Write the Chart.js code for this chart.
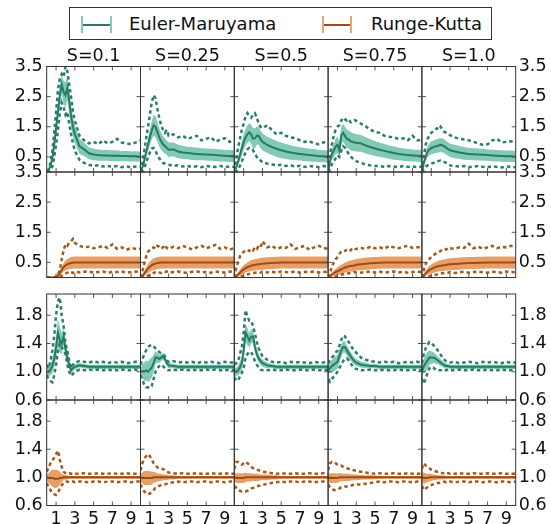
<!DOCTYPE html>
<html>
<head>
<meta charset="utf-8">
<script src="https://cdn.jsdelivr.net/npm/chart.js@4.4.0/dist/chart.umd.min.js"></script>
<style>
body{margin:0;background:#fff;width:551px;height:524px;overflow:hidden;position:relative;font-family:"DejaVu Sans",sans-serif;}
canvas{position:absolute;left:0;top:0;}
#legend{position:absolute;left:69px;top:7px;width:421px;height:31px;border:1px solid #333;background:#fff;}
.sym{position:absolute;height:2px;}
.cap{position:absolute;width:2px;}
.ltxt{position:absolute;font-size:18px;line-height:18px;color:#111;white-space:nowrap;}
</style>
</head>
<body>
<div id="legend"></div>
<script>
// time grid
const T = [0,0.2,0.4,0.6,0.8,1,1.2,1.4,1.6,1.8,2,2.2,2.4,2.6,2.8,3,3.5,4,4.5,5,5.5,6,6.5,7,7.5,8,8.5,9,9.5,10];
const sLabels = ['S=0.1','S=0.25','S=0.5','S=0.75','S=1.0'];
const xTicks = [1,3,5,7,9];
const yTicksA = [0.5,1.5,2.5,3.5];
const yTicksB = [0.6,1.0,1.4,1.8];

// upper variable, Euler-Maruyama
const emMeanA = [
  [0,0.06,0.2,0.45,0.9,1.45,2.0,2.55,2.9,2.65,2.55,2.8,2.35,1.85,1.5,1.25,0.85,0.75,0.62,0.58,0.56,0.55,0.55,0.54,0.54,0.53,0.53,0.52,0.52,0.51],
  [0,0.15,0.38,0.65,0.9,1.15,1.38,1.55,1.5,1.33,1.15,1.02,0.92,0.86,0.8,0.74,0.75,0.68,0.65,0.63,0.61,0.6,0.59,0.58,0.57,0.56,0.55,0.54,0.53,0.53],
  [0,0.15,0.35,0.55,0.78,1.0,1.15,1.25,1.32,1.25,1.1,1.12,1.2,1.2,1.08,1.0,0.9,0.83,0.77,0.72,0.68,0.65,0.62,0.6,0.58,0.56,0.55,0.53,0.52,0.51],
  [0,0.35,0.6,0.7,0.85,0.9,0.72,1.2,1.3,1.2,1.1,1.08,1.02,1.0,0.98,0.97,0.95,0.88,0.83,0.78,0.74,0.7,0.66,0.63,0.6,0.58,0.56,0.55,0.54,0.53],
  [0,0.3,0.5,0.68,0.75,0.8,0.82,0.85,0.86,0.88,0.9,0.88,0.85,0.8,0.76,0.72,0.68,0.65,0.62,0.6,0.59,0.58,0.57,0.56,0.55,0.54,0.53,0.52,0.52,0.51]
];
const emSdA = [
  [0.02,0.04,0.07,0.1,0.15,0.2,0.25,0.3,0.32,0.38,0.42,0.4,0.38,0.36,0.33,0.3,0.25,0.22,0.2,0.19,0.19,0.18,0.18,0.18,0.18,0.17,0.17,0.17,0.17,0.17],
  [0.02,0.06,0.1,0.15,0.2,0.25,0.3,0.35,0.35,0.33,0.3,0.28,0.26,0.25,0.24,0.24,0.23,0.22,0.22,0.21,0.21,0.21,0.2,0.2,0.2,0.2,0.2,0.2,0.2,0.2],
  [0.02,0.06,0.12,0.18,0.22,0.26,0.28,0.3,0.3,0.32,0.35,0.33,0.3,0.3,0.29,0.28,0.27,0.27,0.26,0.26,0.25,0.24,0.23,0.22,0.22,0.21,0.21,0.2,0.2,0.2],
  [0.02,0.1,0.18,0.22,0.25,0.28,0.28,0.3,0.3,0.3,0.3,0.3,0.3,0.3,0.29,0.29,0.28,0.27,0.26,0.25,0.24,0.23,0.22,0.22,0.21,0.21,0.2,0.2,0.2,0.2],
  [0.02,0.1,0.15,0.18,0.2,0.21,0.22,0.22,0.23,0.23,0.23,0.23,0.23,0.23,0.22,0.22,0.22,0.21,0.21,0.2,0.2,0.2,0.2,0.19,0.19,0.19,0.19,0.19,0.19,0.19]
];
const emHiA = [
  [0.02,0.1,0.3,0.7,1.3,2.0,2.7,3.1,3.25,3.15,3.5,3.35,2.9,2.5,2.0,1.7,1.2,1.05,0.95,1.0,0.92,1.05,0.95,1.0,1.1,0.98,0.95,0.92,0.98,1.05],
  [0.02,0.3,0.7,1.1,1.5,1.9,2.3,2.55,2.45,2.1,1.8,1.55,1.4,1.3,1.4,1.2,1.25,1.15,1.2,1.1,1.15,1.2,1.05,1.1,1.15,1.0,1.08,1.12,1.0,1.05],
  [0.02,0.4,0.8,1.1,1.4,1.6,1.85,1.95,1.85,1.8,1.9,1.95,1.8,1.6,1.5,1.45,1.55,1.4,1.25,1.3,1.2,1.15,1.12,1.05,1.0,1.02,0.95,0.92,0.98,1.02],
  [0.02,0.6,0.9,1.2,1.4,1.5,1.55,1.7,1.8,1.75,1.7,1.75,1.65,1.7,1.72,1.7,1.6,1.52,1.4,1.33,1.3,1.2,1.17,1.15,1.1,1.12,1.05,1.2,1.05,1.05],
  [0.02,0.5,0.9,1.1,1.2,1.3,1.35,1.4,1.45,1.4,1.5,1.4,1.33,1.3,1.25,1.22,1.15,1.1,1.08,1.05,1.0,0.95,0.9,0.92,1.05,1.1,0.98,1.0,1.02,0.98]
];
const emLoA = [
  [0,0.02,0.06,0.18,0.48,0.9,1.4,1.95,2.3,2.15,1.9,2.0,1.6,1.25,0.95,0.7,0.4,0.3,0.24,0.2,0.22,0.18,0.2,0.17,0.2,0.16,0.19,0.15,0.18,0.17],
  [0,0.05,0.15,0.3,0.5,0.65,0.78,0.8,0.72,0.55,0.45,0.38,0.3,0.28,0.25,0.24,0.2,0.22,0.18,0.2,0.17,0.19,0.16,0.2,0.18,0.17,0.2,0.16,0.18,0.17],
  [0,0.03,0.1,0.2,0.35,0.5,0.65,0.75,0.8,0.78,0.72,0.6,0.5,0.42,0.38,0.32,0.28,0.25,0.22,0.24,0.2,0.22,0.18,0.21,0.17,0.2,0.18,0.16,0.2,0.18],
  [0,0.1,0.25,0.35,0.45,0.55,0.5,0.7,0.85,0.8,0.7,0.6,0.52,0.45,0.4,0.36,0.3,0.25,0.22,0.2,0.2,0.17,0.2,0.18,0.16,0.2,0.17,0.18,0.16,0.18],
  [0,0.1,0.18,0.22,0.25,0.28,0.3,0.32,0.35,0.37,0.38,0.36,0.33,0.3,0.26,0.22,0.2,0.18,0.2,0.16,0.18,0.2,0.17,0.16,0.19,0.17,0.15,0.18,0.17,0.16]
];

// upper variable, Runge-Kutta
const rkMeanA = [
  [0,0,0,0,0,0.01,0.06,0.15,0.25,0.34,0.4,0.44,0.46,0.48,0.49,0.5,0.5,0.5,0.5,0.5,0.5,0.5,0.5,0.5,0.5,0.5,0.5,0.5,0.5,0.5],
  [0,0.05,0.13,0.22,0.3,0.36,0.41,0.44,0.46,0.48,0.49,0.5,0.5,0.5,0.5,0.5,0.5,0.5,0.5,0.5,0.5,0.5,0.5,0.5,0.5,0.5,0.5,0.5,0.5,0.5],
  [0,0.04,0.1,0.16,0.22,0.27,0.31,0.34,0.37,0.39,0.41,0.42,0.43,0.44,0.45,0.46,0.47,0.48,0.49,0.5,0.5,0.5,0.5,0.5,0.5,0.5,0.5,0.5,0.5,0.5],
  [0,0.05,0.1,0.14,0.18,0.21,0.24,0.27,0.3,0.33,0.35,0.37,0.38,0.39,0.4,0.42,0.44,0.46,0.47,0.48,0.49,0.5,0.5,0.5,0.5,0.5,0.5,0.5,0.5,0.5],
  [0,0.07,0.14,0.2,0.25,0.28,0.31,0.34,0.36,0.38,0.39,0.4,0.41,0.42,0.43,0.44,0.45,0.46,0.47,0.48,0.48,0.49,0.49,0.5,0.5,0.5,0.5,0.5,0.5,0.5]
];
const rkSdA = [
  [0,0,0,0,0.01,0.02,0.05,0.08,0.11,0.14,0.16,0.18,0.19,0.2,0.2,0.2,0.2,0.2,0.2,0.2,0.2,0.2,0.2,0.2,0.2,0.2,0.2,0.2,0.2,0.2],
  [0,0.04,0.08,0.12,0.15,0.17,0.18,0.19,0.2,0.2,0.2,0.2,0.2,0.2,0.2,0.2,0.2,0.2,0.2,0.2,0.2,0.2,0.2,0.2,0.2,0.2,0.2,0.2,0.2,0.2],
  [0,0.03,0.07,0.1,0.12,0.14,0.15,0.16,0.17,0.18,0.18,0.19,0.19,0.19,0.2,0.2,0.2,0.2,0.2,0.2,0.2,0.2,0.2,0.2,0.2,0.2,0.2,0.2,0.2,0.2],
  [0,0.03,0.06,0.09,0.11,0.13,0.14,0.15,0.16,0.17,0.17,0.18,0.18,0.19,0.19,0.19,0.2,0.2,0.2,0.2,0.2,0.2,0.2,0.2,0.2,0.2,0.2,0.2,0.2,0.2],
  [0,0.04,0.08,0.11,0.13,0.15,0.16,0.17,0.17,0.18,0.18,0.19,0.19,0.19,0.2,0.2,0.2,0.2,0.2,0.2,0.2,0.2,0.2,0.2,0.2,0.2,0.2,0.2,0.2,0.2]
];
const rkHiA = [
  [0,0,0,0,0.01,0.03,0.1,0.25,0.6,0.9,1.1,1.05,1.15,1.2,1.28,1.15,1.05,1.0,1.02,0.97,1.0,1.05,0.98,1.1,0.95,1.0,0.92,0.98,0.95,0.95],
  [0,0.2,0.45,0.7,0.85,0.92,0.98,1.0,0.95,1.05,1.02,0.95,1.0,1.08,0.98,0.95,1.02,0.97,1.05,1.0,0.93,1.0,1.05,0.97,1.02,1.08,0.95,1.0,0.92,0.98],
  [0,0.3,0.5,0.7,0.8,0.85,0.9,0.92,0.88,0.95,0.9,1.0,0.95,1.05,1.0,1.2,1.0,1.05,0.95,1.0,0.98,1.1,0.95,1.0,1.05,0.92,1.0,1.05,0.98,0.95],
  [0,0.15,0.35,0.5,0.6,0.68,0.78,0.86,0.9,0.88,0.92,0.95,0.9,0.97,0.93,0.95,0.98,0.95,1.02,0.97,1.0,0.95,1.05,1.0,0.97,1.02,1.05,0.98,1.0,1.0],
  [0,0.25,0.45,0.55,0.62,0.68,0.72,0.78,0.82,0.85,0.88,0.92,0.9,0.95,0.92,0.97,0.95,1.0,0.98,1.12,0.97,1.02,0.95,1.0,1.05,0.97,1.02,1.0,1.05,1.02]
];
const rkLoA = [
  [0,0,0,0,0,0,0.01,0.03,0.06,0.1,0.13,0.16,0.2,0.18,0.15,0.2,0.17,0.19,0.2,0.16,0.18,0.2,0.15,0.19,0.18,0.2,0.16,0.18,0.2,0.17],
  [0,0,0.02,0.04,0.06,0.08,0.12,0.15,0.18,0.2,0.17,0.15,0.19,0.18,0.2,0.16,0.18,0.2,0.17,0.16,0.19,0.2,0.17,0.18,0.16,0.2,0.18,0.17,0.2,0.18],
  [0,0,0.01,0.02,0.04,0.06,0.08,0.1,0.12,0.14,0.15,0.16,0.17,0.18,0.16,0.2,0.17,0.19,0.16,0.2,0.18,0.17,0.2,0.16,0.19,0.18,0.2,0.17,0.18,0.2],
  [0,0,0.01,0.02,0.03,0.05,0.07,0.09,0.11,0.12,0.13,0.14,0.15,0.16,0.18,0.17,0.16,0.18,0.2,0.17,0.19,0.16,0.18,0.2,0.17,0.19,0.16,0.18,0.2,0.17],
  [0,0,0.01,0.02,0.04,0.06,0.08,0.09,0.1,0.12,0.13,0.14,0.15,0.15,0.16,0.18,0.15,0.17,0.19,0.16,0.18,0.2,0.17,0.16,0.19,0.18,0.16,0.2,0.17,0.18]
];

// lower variable, Euler-Maruyama
const emMeanB = [
  [1.0,1.0,1.03,1.08,1.18,1.35,1.55,1.45,1.4,1.5,1.32,1.2,1.1,1.02,1.05,1.07,1.09,1.08,1.07,1.07,1.07,1.07,1.07,1.07,1.07,1.07,1.07,1.07,1.07,1.07],
  [1.0,1.01,1.0,1.02,1.0,1.03,1.06,1.12,1.2,1.2,1.18,1.2,1.22,1.18,1.12,1.09,1.08,1.07,1.07,1.07,1.07,1.07,1.07,1.07,1.07,1.07,1.07,1.07,1.07,1.07],
  [1.0,1.0,1.02,1.06,1.12,1.3,1.55,1.5,1.44,1.5,1.5,1.35,1.25,1.19,1.15,1.12,1.09,1.08,1.07,1.07,1.07,1.07,1.07,1.07,1.07,1.07,1.07,1.07,1.07,1.07],
  [1.02,1.05,1.08,1.1,1.12,1.14,1.22,1.3,1.35,1.35,1.3,1.26,1.22,1.18,1.15,1.13,1.1,1.09,1.08,1.08,1.07,1.07,1.07,1.07,1.07,1.07,1.07,1.07,1.07,1.07],
  [1.0,1.08,1.12,1.16,1.2,1.2,1.2,1.19,1.17,1.15,1.13,1.11,1.09,1.08,1.08,1.07,1.07,1.07,1.07,1.07,1.07,1.07,1.07,1.07,1.07,1.07,1.07,1.07,1.07,1.07]
];
const emSdB = [
  [0.05,0.06,0.08,0.1,0.12,0.15,0.2,0.18,0.15,0.12,0.1,0.08,0.06,0.05,0.04,0.04,0.03,0.03,0.03,0.03,0.03,0.03,0.03,0.03,0.03,0.03,0.03,0.03,0.03,0.03],
  [0.05,0.1,0.13,0.14,0.15,0.15,0.14,0.12,0.09,0.07,0.06,0.05,0.05,0.04,0.04,0.04,0.03,0.03,0.03,0.03,0.03,0.03,0.03,0.03,0.03,0.03,0.03,0.03,0.03,0.03],
  [0.05,0.06,0.07,0.08,0.1,0.12,0.13,0.12,0.1,0.1,0.09,0.08,0.07,0.06,0.05,0.05,0.04,0.03,0.03,0.03,0.03,0.03,0.03,0.03,0.03,0.03,0.03,0.03,0.03,0.03],
  [0.05,0.07,0.09,0.1,0.1,0.1,0.1,0.09,0.08,0.08,0.07,0.07,0.06,0.06,0.05,0.05,0.04,0.04,0.03,0.03,0.03,0.03,0.03,0.03,0.03,0.03,0.03,0.03,0.03,0.03],
  [0.05,0.1,0.12,0.12,0.1,0.09,0.08,0.07,0.06,0.05,0.05,0.04,0.04,0.04,0.03,0.03,0.03,0.03,0.03,0.03,0.03,0.03,0.03,0.03,0.03,0.03,0.03,0.03,0.03,0.03]
];
const emHiB = [
  [1.1,1.05,1.15,1.3,1.5,1.8,2.0,2.05,1.8,1.65,1.4,1.3,1.15,1.05,1.1,1.13,1.15,1.14,1.13,1.15,1.13,1.14,1.12,1.14,1.13,1.14,1.12,1.13,1.14,1.13],
  [1.1,1.17,1.25,1.3,1.35,1.37,1.38,1.36,1.33,1.3,1.28,1.26,1.25,1.22,1.16,1.14,1.15,1.13,1.14,1.13,1.14,1.12,1.14,1.13,1.14,1.13,1.12,1.14,1.13,1.13],
  [1.1,1.12,1.15,1.25,1.35,1.55,1.87,1.78,1.72,1.72,1.65,1.54,1.42,1.33,1.27,1.22,1.17,1.14,1.13,1.14,1.12,1.14,1.13,1.14,1.13,1.12,1.14,1.13,1.13,1.14],
  [1.12,1.16,1.2,1.23,1.27,1.3,1.37,1.45,1.51,1.5,1.45,1.42,1.38,1.33,1.3,1.27,1.2,1.17,1.15,1.14,1.13,1.14,1.13,1.14,1.12,1.13,1.14,1.13,1.14,1.13],
  [1.12,1.25,1.33,1.38,1.42,1.41,1.38,1.35,1.32,1.28,1.24,1.2,1.17,1.15,1.14,1.13,1.14,1.12,1.13,1.14,1.13,1.12,1.14,1.13,1.14,1.13,1.12,1.14,1.13,1.13]
];
const emLoB = [
  [0.95,0.9,0.87,0.85,0.95,1.1,1.3,1.4,1.35,1.3,1.25,1.1,1.0,0.94,0.97,1.0,1.03,1.02,1.03,1.02,1.03,1.02,1.03,1.02,1.02,1.03,1.02,1.02,1.03,1.02],
  [0.95,0.88,0.82,0.78,0.78,0.77,0.8,0.9,1.0,1.05,1.08,1.1,1.08,1.05,1.03,1.02,1.03,1.02,1.03,1.02,1.03,1.02,1.02,1.03,1.02,1.03,1.02,1.02,1.03,1.02],
  [0.92,0.87,0.88,0.93,0.98,1.05,1.2,1.25,1.28,1.28,1.22,1.15,1.1,1.06,1.03,1.02,1.02,1.03,1.02,1.02,1.03,1.02,1.02,1.03,1.02,1.02,1.03,1.02,1.02,1.03],
  [0.9,0.86,0.9,0.93,0.96,1.0,1.05,1.1,1.15,1.18,1.19,1.16,1.12,1.08,1.05,1.04,1.02,1.02,1.03,1.02,1.02,1.03,1.02,1.02,1.03,1.02,1.02,1.03,1.02,1.02],
  [0.9,0.83,0.9,0.98,1.05,1.07,1.06,1.04,1.02,1.02,1.02,1.03,1.02,1.02,1.03,1.02,1.02,1.03,1.02,1.02,1.03,1.02,1.02,1.03,1.02,1.02,1.03,1.02,1.02,1.03]
];

// lower variable, Runge-Kutta
const rkMeanB = [
  [1.0,0.99,0.99,0.99,0.98,0.98,0.98,0.99,0.99,1.0,1.0,1.0,1.0,1.0,1.0,1.0,1.0,1.0,1.0,1.0,1.0,1.0,1.0,1.0,1.0,1.0,1.0,1.0,1.0,1.0],
  [1.0,0.99,0.99,0.99,0.99,0.99,0.99,1.0,1.0,1.0,1.0,1.0,1.0,1.0,1.0,1.0,1.0,1.0,1.0,1.0,1.0,1.0,1.0,1.0,1.0,1.0,1.0,1.0,1.0,1.0],
  [1.0,0.99,0.99,0.99,0.99,0.99,1.0,1.0,1.0,1.0,1.0,1.0,1.0,1.0,1.0,1.0,1.0,1.0,1.0,1.0,1.0,1.0,1.0,1.0,1.0,1.0,1.0,1.0,1.0,1.0],
  [1.0,0.99,0.99,0.99,0.99,0.99,1.0,1.0,1.0,1.0,1.0,1.0,1.0,1.0,1.0,1.0,1.0,1.0,1.0,1.0,1.0,1.0,1.0,1.0,1.0,1.0,1.0,1.0,1.0,1.0],
  [1.0,0.99,0.99,0.99,1.0,1.0,1.0,1.0,1.0,1.0,1.0,1.0,1.0,1.0,1.0,1.0,1.0,1.0,1.0,1.0,1.0,1.0,1.0,1.0,1.0,1.0,1.0,1.0,1.0,1.0]
];
const rkSdB = [
  [0.04,0.07,0.1,0.12,0.13,0.13,0.12,0.09,0.06,0.04,0.03,0.03,0.02,0.02,0.02,0.02,0.02,0.02,0.02,0.02,0.02,0.02,0.02,0.02,0.02,0.02,0.02,0.02,0.02,0.02],
  [0.05,0.08,0.1,0.1,0.1,0.1,0.09,0.08,0.07,0.06,0.05,0.05,0.04,0.04,0.04,0.03,0.03,0.02,0.02,0.02,0.02,0.02,0.02,0.02,0.02,0.02,0.02,0.02,0.02,0.02],
  [0.05,0.07,0.07,0.07,0.07,0.07,0.07,0.06,0.06,0.06,0.05,0.05,0.05,0.05,0.04,0.04,0.04,0.03,0.03,0.02,0.02,0.02,0.02,0.02,0.02,0.02,0.02,0.02,0.02,0.02],
  [0.05,0.07,0.07,0.07,0.07,0.065,0.06,0.06,0.055,0.05,0.05,0.05,0.045,0.045,0.04,0.04,0.035,0.03,0.03,0.025,0.02,0.02,0.02,0.02,0.02,0.02,0.02,0.02,0.02,0.02],
  [0.06,0.08,0.07,0.06,0.05,0.05,0.04,0.04,0.035,0.03,0.03,0.025,0.025,0.02,0.02,0.02,0.02,0.02,0.02,0.02,0.02,0.02,0.02,0.02,0.02,0.02,0.02,0.02,0.02,0.02]
];
const rkHiB = [
  [1.08,1.13,1.2,1.24,1.28,1.33,1.38,1.25,1.15,1.08,1.06,1.05,1.06,1.05,1.06,1.05,1.05,1.06,1.05,1.05,1.06,1.05,1.05,1.06,1.05,1.05,1.06,1.05,1.05,1.05],
  [1.1,1.2,1.27,1.3,1.33,1.3,1.25,1.2,1.17,1.14,1.13,1.12,1.12,1.1,1.08,1.07,1.06,1.05,1.06,1.05,1.05,1.06,1.05,1.05,1.06,1.05,1.05,1.06,1.05,1.05],
  [1.12,1.22,1.22,1.2,1.18,1.2,1.22,1.2,1.18,1.15,1.13,1.12,1.11,1.1,1.09,1.08,1.07,1.06,1.05,1.06,1.05,1.05,1.06,1.05,1.05,1.06,1.05,1.05,1.06,1.05],
  [1.1,1.2,1.22,1.22,1.2,1.18,1.17,1.17,1.15,1.14,1.13,1.12,1.11,1.1,1.1,1.09,1.08,1.07,1.06,1.05,1.06,1.05,1.05,1.06,1.05,1.05,1.06,1.05,1.05,1.05],
  [1.12,1.2,1.17,1.15,1.13,1.11,1.1,1.09,1.08,1.08,1.07,1.06,1.06,1.05,1.06,1.05,1.05,1.06,1.05,1.05,1.06,1.05,1.05,1.06,1.05,1.05,1.06,1.05,1.05,1.05]
];
const rkLoB = [
  [0.92,0.86,0.82,0.78,0.76,0.75,0.78,0.84,0.89,0.92,0.94,0.94,0.93,0.94,0.94,0.93,0.94,0.94,0.93,0.94,0.94,0.93,0.94,0.94,0.93,0.94,0.94,0.93,0.94,0.94],
  [0.9,0.84,0.8,0.77,0.76,0.77,0.79,0.82,0.85,0.86,0.88,0.89,0.9,0.9,0.91,0.92,0.93,0.94,0.93,0.94,0.94,0.93,0.94,0.94,0.93,0.94,0.94,0.93,0.94,0.94],
  [0.88,0.85,0.82,0.81,0.8,0.8,0.8,0.81,0.82,0.84,0.85,0.86,0.87,0.88,0.88,0.89,0.91,0.92,0.93,0.94,0.93,0.94,0.94,0.93,0.94,0.94,0.93,0.94,0.94,0.93],
  [0.9,0.86,0.84,0.82,0.82,0.83,0.84,0.86,0.86,0.87,0.87,0.88,0.88,0.89,0.89,0.9,0.9,0.91,0.92,0.93,0.94,0.93,0.94,0.94,0.93,0.94,0.94,0.93,0.94,0.94],
  [0.88,0.82,0.84,0.86,0.88,0.89,0.9,0.91,0.92,0.92,0.93,0.93,0.94,0.93,0.94,0.94,0.93,0.94,0.94,0.93,0.94,0.94,0.93,0.94,0.94,0.93,0.94,0.94,0.93,0.94]
];

// colours
const EM = {mean:'#257a68', dash:'#2a7d6b', band:'rgba(27,158,119,0.55)', cap:'#7fcdb8'};
const RK = {mean:'#9c4c14', dash:'#a5581c', band:'rgba(217,95,2,0.6)', cap:'#eba56a'};

// page layout (pixels)
const W = 551, H = 524;
const colX = [46.7,140.5,234.3,328.1,421.9,515.7];
const rowY = [[66.5,172],[172,277.5],[294,400],[400,505.5]];
const LEFTW = 46, RIGHTW = 35, XH = 18.5, TITLEH = 21;
const FONT = {family:'DejaVu Sans', size:17.5};

Chart.defaults.font.family = 'DejaVu Sans';
Chart.defaults.color = '#111';

const rows = [
  {mean:emMeanA, sd:emSdA, hi:emHiA, lo:emLoA, col:EM, min:0, max:3.5, ticks:yTicksA},
  {mean:rkMeanA, sd:rkSdA, hi:rkHiA, lo:rkLoA, col:RK, min:0, max:3.5, ticks:yTicksA},
  {mean:emMeanB, sd:emSdB, hi:emHiB, lo:emLoB, col:EM, min:0.6, max:2.1, ticks:yTicksB},
  {mean:rkMeanB, sd:rkSdB, hi:rkHiB, lo:rkLoB, col:RK, min:0.6, max:2.1, ticks:yTicksB}
];

const pts = ys => T.map((t, i) => ({x:t, y:ys[i]}));

const frame = {
  id:'frame',
  afterDatasetsDraw(chart, args, opts) {
    const {ctx, chartArea:a, scales} = chart;
    ctx.save();
    ctx.strokeStyle = '#555';
    ctx.lineWidth = 1;
    ctx.beginPath();
    xTicks.forEach(v => {
      const px = scales.x.getPixelForValue(v);
      ctx.moveTo(px, a.bottom); ctx.lineTo(px, a.bottom - 4);
      ctx.moveTo(px, a.top); ctx.lineTo(px, a.top + 4);
    });
    opts.ticks.forEach(v => {
      const py = scales.y.getPixelForValue(v);
      ctx.moveTo(a.left, py); ctx.lineTo(a.left + 4, py);
      ctx.moveTo(a.right, py); ctx.lineTo(a.right - 4, py);
    });
    ctx.stroke();
    ctx.strokeStyle = '#333';
    ctx.strokeRect(a.left, a.top, a.right - a.left, a.bottom - a.top);
    ctx.restore();
  }
};

function yAxis(spec, show, pos, w) {
  return {
    type:'linear', position:pos, min:spec.min, max:spec.max, display:show,
    grid:{display:false, drawTicks:false}, border:{display:false},
    afterBuildTicks: s => { s.ticks = spec.ticks.map(v => ({value:v})); },
    afterFit: s => { s.width = show ? w : 0; },
    ticks:{font:FONT, color:'#111', padding: pos === 'left' ? 4 : 3, autoSkip:false,
           callback: v => Number(v).toFixed(1)}
  };
}

rows.forEach((spec, r) => {
  for (let c = 0; c < 5; c++) {
    const cv = document.createElement('canvas');
    cv.width = W; cv.height = H;
    document.body.appendChild(cv);
    const col = spec.col;
    const m = spec.mean[c], sd = spec.sd[c];
    const showX = r === 3;
    const scales = {
      x:{type:'linear', min:0, max:10, display: showX, position:'bottom',
         grid:{display:false, drawTicks:false}, border:{display:false},
         afterBuildTicks: s => { s.ticks = xTicks.map(v => ({value:v})); },
         afterFit: s => { s.height = showX ? XH : 0; },
         ticks:{font:FONT, color:'#111', padding:3, autoSkip:false, maxRotation:0}},
      y: yAxis(spec, c === 0, 'left', LEFTW)
    };
    if (c === 4) scales.y2 = yAxis(spec, true, 'right', RIGHTW);
    new Chart(cv, {
      type:'line',
      data:{datasets:[
        {data:pts(m), borderColor:col.mean, borderWidth:2, pointRadius:0, order:0},
        {data:pts(spec.hi[c]), borderColor:col.dash, borderWidth:2.5, borderDash:[3.5,3], pointRadius:0, order:1},
        {data:pts(spec.lo[c]), borderColor:col.dash, borderWidth:2.5, borderDash:[3.5,3], pointRadius:0, order:1},
        {data:pts(m.map((v, i) => v + sd[i])), borderColor:'rgba(0,0,0,0)', borderWidth:0,
         backgroundColor:col.band, fill:'+1', pointRadius:0, order:2},
        {data:pts(m.map((v, i) => v - sd[i])), borderColor:'rgba(0,0,0,0)', borderWidth:0,
         fill:false, pointRadius:0, order:2}
      ]},
      options:{
        responsive:false, animation:false, events:[],
        layout:{padding:{
          left: c === 0 ? colX[0] - LEFTW : colX[c],
          right: W - colX[c + 1] - (c === 4 ? RIGHTW : 0),
          top: rowY[r][0] - (r === 0 ? TITLEH : 0),
          bottom: H - rowY[r][1] - (showX ? XH : 0)
        }},
        scales,
        plugins:{
          legend:{display:false}, tooltip:{enabled:false},
          title:{display: r === 0, text: sLabels[c], fullSize:false, align:'center',
                 font:{family:'DejaVu Sans', size:17.5, weight:'normal'}, color:'#111',
                 padding:{top:0, bottom:0}},
          frame:{ticks:spec.ticks}
        }
      },
      plugins:[frame]
    });
  }
});

// legend (error-bar style symbols)
const lg = document.getElementById('legend');
function legendItem(x0, x1, textX, name, col) {
  const top = 7, L = 69;
  const line = document.createElement('div');
  line.className = 'sym';
  line.style.cssText = `left:${x0 - L}px;top:${22.5 - top}px;width:${x1 - x0}px;background:${col.mean};`;
  lg.appendChild(line);
  [x0, x1 - 2].forEach(x => {
    const cap = document.createElement('div');
    cap.className = 'cap';
    cap.style.cssText = `left:${x - L}px;top:${15 - top}px;height:17px;background:${col.cap};`;
    lg.appendChild(cap);
  });
  const t = document.createElement('div');
  t.className = 'ltxt';
  t.style.cssText = `left:${textX - L}px;top:${14 - top}px;`;
  t.textContent = name;
  lg.appendChild(t);
}
legendItem(80, 111, 128, 'Euler-Maruyama', EM);
legendItem(321, 351, 370, 'Runge-Kutta', RK);
</script>
</body>
</html>
